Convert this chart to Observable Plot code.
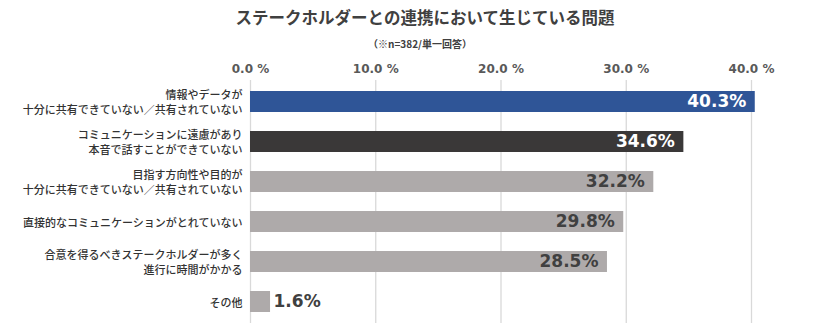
<!DOCTYPE html>
<html><head><meta charset="utf-8">
<script src="https://cdn.jsdelivr.net/npm/d3@7"></script>
<script src="https://cdn.jsdelivr.net/npm/@observablehq/plot@0.6"></script>
<style>
body{margin:0;background:#fff;width:840px;height:333px;overflow:hidden;font-family:"Noto Sans CJK JP","Noto Sans",sans-serif;}
#title{height:34px;line-height:34px;font-size:16.5px;font-weight:700;color:#404040;text-align:center;padding-left:10px;white-space:nowrap;}
#sub{height:20px;line-height:20px;font-size:10px;font-weight:700;color:#404040;text-align:center;padding-left:0px;}
</style></head>
<body>
<div id="title">ステークホルダーとの連携において生じている問題</div>
<div id="sub">（※n=382/単一回答）</div>
<div id="chart"></div>
<script>
const categories = [
  "情報やデータが\n十分に共有できていない／共有されていない",
  "コミュニケーションに遠慮があり\n本音で話すことができていない",
  "目指す方向性や目的が\n十分に共有できていない／共有されていない",
  "直接的なコミュニケーションがとれていない",
  "合意を得るべきステークホルダーが多く\n進行に時間がかかる",
  "その他"
];
const values = [40.3, 34.6, 32.2, 29.8, 28.5, 1.6];
const barColors = ["#2F5597", "#3A3838", "#AEAAAA", "#AEAAAA", "#AEAAAA", "#AEAAAA"];
const labelColors = ["#ffffff", "#ffffff", "#404040", "#404040", "#404040", "#404040"];
const ticks = [0, 10, 20, 30, 40];
const tickLabels = ["0.0 %", "10.0 %", "20.0 %", "30.0 %", "40.0 %"];

const data = categories.map((c, i) => ({cat: c, v: values[i], fill: barColors[i], lc: labelColors[i], inside: values[i] > 5}));

const chart = Plot.plot({
  width: 840,
  height: 279,
  marginTop: 26,
  marginBottom: 10,
  marginLeft: 250,
  marginRight: 89,
  style: {fontFamily: '"Noto Sans CJK JP", sans-serif', background: "#fff"},
  x: {domain: [0, 40], axis: null, label: null},
  y: {domain: categories, paddingInner: 0.47, paddingOuter: 0.235, axis: null, label: null},
  marks: [
    Plot.gridX(ticks, {stroke: "#d9d9d9", strokeOpacity: 1, strokeWidth: 1.3}),
    Plot.text(ticks, {x: d => d, text: (d, i) => tickLabels[i], frameAnchor: "top", dy: -16, fontSize: 12, fontWeight: 700, fill: "#595959", fontFamily: '"DejaVu Sans", sans-serif'}),
    Plot.barX(data, {x: "v", y: "cat", fill: d => d.fill}),
    Plot.text(data, {x: 0, y: "cat", text: "cat", textAnchor: "end", dx: -8, fontSize: 11, lineHeight: 1.38, fill: "#333333", fontWeight: 500}),
    Plot.text(data.filter(d => d.inside), {x: "v", y: "cat", text: d => d.v.toFixed(1) + "%", textAnchor: "end", dx: -9, fontSize: 17, fontWeight: 700, fill: d => d.lc, fontFamily: '"DejaVu Sans", sans-serif'}),
    Plot.text(data.filter(d => !d.inside), {x: "v", y: "cat", text: d => d.v.toFixed(1) + "%", textAnchor: "start", dx: 3, fontSize: 17, fontWeight: 700, fill: d => d.lc, fontFamily: '"DejaVu Sans", sans-serif'})
  ]
});
document.getElementById("chart").appendChild(chart);
</script>
</body></html>
